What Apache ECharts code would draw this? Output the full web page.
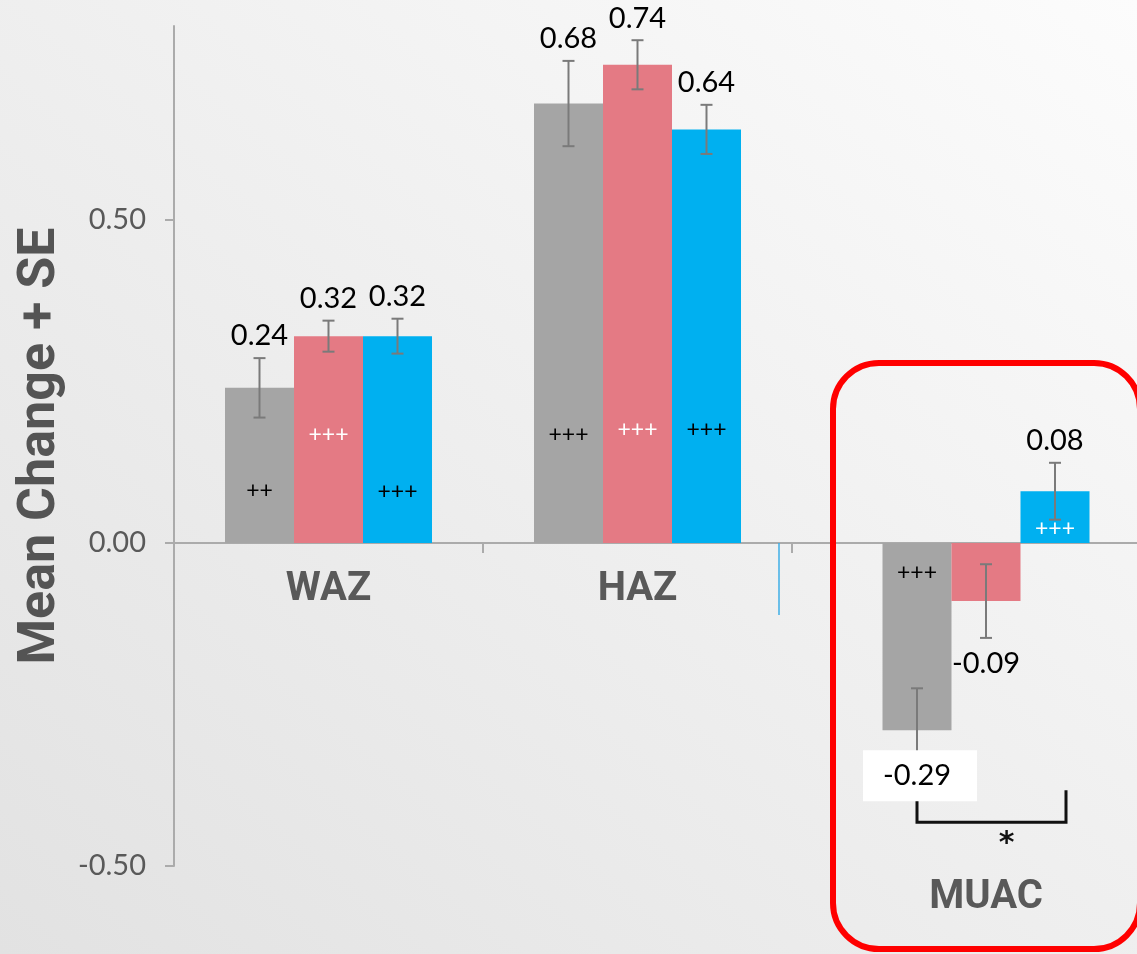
<!DOCTYPE html>
<html>
<head>
<meta charset="utf-8">
<script src="https://cdn.jsdelivr.net/npm/echarts@6/dist/echarts.min.js"></script>
<style>
  html, body { margin: 0; padding: 0; }
  #chart {
    width: 1137px;
    height: 954px;
    background: linear-gradient(to top right, #E2E2E2 0%, #F0F0F0 55%, #FCFCFC 100%);
  }
</style>
</head>
<body>
<div id="chart"></div>
<script>
// data
const categories = ['WAZ', 'HAZ', 'MUAC']
const seriesNames = ['Group 1', 'Group 2', 'Group 3']
const meanGray = [0.24, 0.68, -0.29]
const meanPink = [0.32, 0.74, -0.09]
const meanBlue = [0.32, 0.64, 0.08]
const seGray = [0.046, 0.066, 0.065]
const sePink = [0.024, 0.038, 0.057]
const seBlue = [0.027, 0.038, 0.044]
const sigGray = ['++', '+++', '+++']
const sigPink = ['+++', '+++', '']
const sigBlue = ['+++', '+++', '+++']
const muacCompare = [0, 2]   // gray vs blue
const muacCompareMark = '*'

// style / layout
const COLORS = ['#A5A5A5', '#E47A84', '#00B0F0']
const BAR_W = 69
const SIG_FILL = [['#000', '#000', '#000'], ['#fff', '#fff', '#fff'], ['#000', '#000', '#fff']]
const SIG_OFFSET = [[52, 108, -30], [108, 113, 0], [51, 113, 14]] // px from zero line
const FONT = 'Lato, "DejaVu Sans", sans-serif'
const BOLD_FONT = 'Roboto, "Liberation Sans", sans-serif'
const GRID_TOP = 26
const GRID_H = 840
const Y_MIN = -0.5
const Y_MAX = 0.8
const ZERO_OFFSET = -GRID_H * (0 - Y_MIN) / (Y_MAX - Y_MIN) // move x axes up to zero line

const groups = [
  { mean: meanGray, se: seGray, sig: sigGray },
  { mean: meanPink, se: sePink, sig: sigPink },
  { mean: meanBlue, se: seBlue, sig: sigBlue }
]

// 误差线 + 数值 + 显著性标记
const buildItems = (catIdxs) => {
  const items = []
  catIdxs.forEach((c, localIdx) => {
    groups.forEach((g, gi) => {
      items.push({ value: [localIdx, gi, g.mean[c], g.se[c]], cat: c })
    })
  })
  return items
}

const renderError = (items) => (params, api) => {
  const it = items[params.dataIndex]
  const [ci, gi, mean, se] = it.value
  const c = it.cat
  const cx = api.coord([ci, 0])[0] + (gi - 1) * BAR_W
  const y0 = api.coord([ci, 0])[1]
  const yEnd = api.coord([ci, mean])[1]
  const yHi = api.coord([ci, mean + se])[1]
  const yLo = api.coord([ci, mean - se])[1]
  const lineStyle = { stroke: '#7A7A7A', lineWidth: 2 }
  const children = [
    { type: 'line', shape: { x1: cx, y1: yHi, x2: cx, y2: yLo }, style: lineStyle },
    { type: 'line', shape: { x1: cx - 6, y1: yHi, x2: cx + 6, y2: yHi }, style: lineStyle },
    { type: 'line', shape: { x1: cx - 6, y1: yLo, x2: cx + 6, y2: yLo }, style: lineStyle }
  ]
  const txt = mean.toFixed(2)
  if (mean >= 0) {
    children.push({ type: 'text', style: { text: txt, x: cx, y: yHi - 22, align: 'center', verticalAlign: 'middle', font: '29px ' + FONT, fill: '#000' } })
  } else if (gi === 0) {
    // boxed label under the gray MUAC bar
    const cy = yEnd + 45
    children.push({ type: 'rect', shape: { x: cx - 54, y: cy - 25, width: 114, height: 51 }, style: { fill: '#fff' } })
    children.push({ type: 'text', style: { text: txt, x: cx, y: cy, align: 'center', verticalAlign: 'middle', font: '29px ' + FONT, fill: '#000' } })
  } else {
    children.push({ type: 'text', style: { text: txt, x: cx, y: yLo + 26, align: 'center', verticalAlign: 'middle', font: '29px ' + FONT, fill: '#000' } })
  }
  const sig = groups[gi].sig[c]
  if (sig) {
    children.unshift({ type: 'text', style: { text: sig, x: cx, y: y0 - SIG_OFFSET[gi][c], align: 'center', verticalAlign: 'middle', font: '23px ' + FONT, fill: SIG_FILL[gi][c] } })
  }
  return { type: 'group', children }
}

const renderBracket = (params, api) => {
  const cx = api.coord([0, 0])[0]
  const grayEnd = api.coord([0, meanGray[2]])[1]
  const boxBottom = grayEnd + 71
  const xl = cx + (muacCompare[0] - 1) * BAR_W
  const xr = cx + (muacCompare[1] - 1) * BAR_W + 11
  const yb = boxBottom + 21
  const style = { stroke: '#111', lineWidth: 3, fill: null }
  return {
    type: 'group',
    children: [
      { type: 'polyline', shape: { points: [[xl, boxBottom], [xl, yb], [xr, yb], [xr, boxBottom - 11]] }, style },
      { type: 'text', style: { text: muacCompareMark, x: (xl + xr) / 2 + 15, y: yb + 22, align: 'center', verticalAlign: 'middle', font: 'bold 30px "DejaVu Sans", sans-serif', fill: '#111' } }
    ]
  }
}

const chart = echarts.init(document.getElementById('chart'))

const itemsLeft = buildItems([0, 1])
const itemsRight = buildItems([2])

const barSeries = []
groups.forEach((g, gi) => {
  barSeries.push({
    name: seriesNames[gi], type: 'bar', xAxisIndex: 0, yAxisIndex: 0,
    data: g.mean.slice(0, 2), barWidth: BAR_W, barGap: '0%',
    itemStyle: { color: COLORS[gi] }, silent: true
  })
  barSeries.push({
    name: seriesNames[gi], type: 'bar', xAxisIndex: 1, yAxisIndex: 1,
    data: g.mean.slice(2), barWidth: BAR_W, barGap: '0%',
    itemStyle: { color: COLORS[gi] }, silent: true
  })
})

chart.setOption({
  backgroundColor: 'transparent',
  animation: false,
  grid: [
    { left: 174, top: GRID_TOP, width: 618, height: GRID_H, outerBoundsMode: 'none', containLabel: false },
    { left: 779, top: GRID_TOP, width: 414, height: GRID_H, outerBoundsMode: 'none', containLabel: false }
  ],
  xAxis: [
    {
      gridIndex: 0, type: 'category', data: categories.slice(0, 2), position: 'bottom', offset: ZERO_OFFSET,
      axisLine: { onZero: false, lineStyle: { color: '#ABABAB', width: 2 } },
      axisTick: { show: true, length: 10, lineStyle: { color: '#ABABAB', width: 2 } },
      axisLabel: { color: '#595959', fontSize: 40, fontWeight: 'bold', fontFamily: BOLD_FONT, margin: 27, lineHeight: 40 }
    },
    {
      gridIndex: 1, type: 'category', data: categories.slice(2), position: 'bottom', offset: ZERO_OFFSET,
      axisLine: { onZero: false, lineStyle: { color: '#ABABAB', width: 2 } },
      axisTick: { show: true, length: 72, lineStyle: { color: '#3FAEE6', width: 1.5 } },
      axisLabel: { color: '#595959', fontSize: 40, fontWeight: 'bold', fontFamily: BOLD_FONT, margin: 335, lineHeight: 40 }
    }
  ],
  yAxis: [
    {
      gridIndex: 0, type: 'value', min: Y_MIN, max: Y_MAX, interval: 0.5,
      axisLine: { show: true, lineStyle: { color: '#ABABAB', width: 2 } },
      axisTick: { show: true, length: 9, lineStyle: { color: '#ABABAB', width: 2 } },
      splitLine: { show: false },
      axisLabel: { color: '#595959', fontSize: 29, fontFamily: FONT, margin: 28, showMaxLabel: false, formatter: v => v.toFixed(2) },
      name: 'Mean Change + SE', nameLocation: 'middle', nameRotate: 90, nameGap: 98,
      nameTextStyle: { color: '#545454', fontSize: 52, fontWeight: 'bold', fontFamily: BOLD_FONT }
    },
    { gridIndex: 1, type: 'value', min: Y_MIN, max: Y_MAX, interval: 0.5, show: false }
  ],
  series: [
    ...barSeries,
    {
      type: 'custom', xAxisIndex: 0, yAxisIndex: 0, z: 10, silent: true,
      data: itemsLeft.map(d => d.value), encode: { x: 0, y: 2 },
      renderItem: renderError(itemsLeft)
    },
    {
      type: 'custom', xAxisIndex: 1, yAxisIndex: 1, z: 10, silent: true,
      data: itemsRight.map(d => d.value), encode: { x: 0, y: 2 },
      renderItem: renderError(itemsRight)
    },
    {
      type: 'custom', xAxisIndex: 1, yAxisIndex: 1, z: 11, silent: true,
      data: [[0, meanGray[2]]], encode: { x: 0, y: 1 },
      renderItem: renderBracket
    }
  ],
  graphic: [
    {
      type: 'rect', z: 100, silent: true,
      shape: { x: 833, y: 363, width: 307, height: 586, r: 46 },
      style: { fill: 'none', stroke: '#FF0000', lineWidth: 6 }
    }
  ]
})

window.addEventListener('resize', () => chart.resize())
</script>
</body>
</html>
